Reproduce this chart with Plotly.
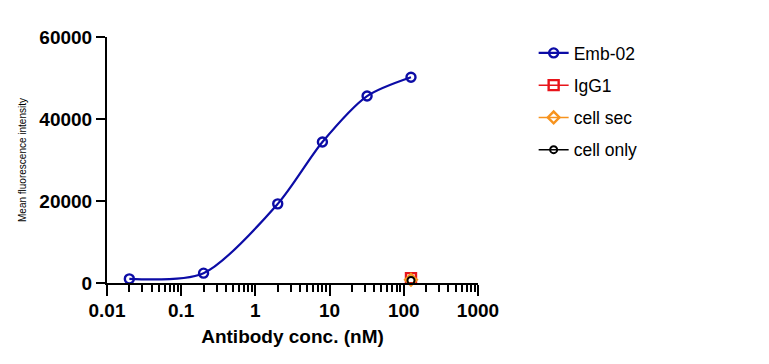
import plotly.graph_objects as go

conc = [0.02, 0.2, 2, 8, 32, 125]
emb02 = [1000, 2400, 19300, 34400, 45600, 50200]
ctrl_conc = [125]
igg1 = [1200]
cell_sec = [800]
cell_only = [600]

x_ticks = [0.01, 0.1, 1, 10, 100, 1000]
x_tick_text = ["0.01", "0.1", "1", "10", "100", "1000"]
y_ticks = [0, 20000, 40000, 60000]
y_tick_text = ["0", "20000", "40000", "60000"]

FONT = "Arial, Liberation Sans, sans-serif"
BLUE = "#0c0ca6"

fig = go.Figure()
fig.add_trace(go.Scatter(
    x=conc, y=emb02, name="Emb-02", mode="lines+markers",
    line=dict(color=BLUE, width=2.2, shape="spline", smoothing=0.8),
    marker=dict(symbol="circle-open", size=9, color=BLUE, line=dict(width=2.4)),
    cliponaxis=False, legendgroup="a"))
fig.add_trace(go.Scatter(
    x=ctrl_conc, y=igg1, name="IgG1", mode="lines+markers",
    line=dict(color="#e8141a", width=1.5),
    marker=dict(symbol="square-open", size=10, color="#e8141a", line=dict(width=2.4)),
    cliponaxis=False, legendgroup="b"))
fig.add_trace(go.Scatter(
    x=ctrl_conc, y=cell_sec, name="cell sec", mode="lines+markers",
    line=dict(color="#f7931e", width=1.5),
    marker=dict(symbol="diamond-open", size=9, color="#f7931e", line=dict(width=2.4)),
    cliponaxis=False, legendgroup="c"))
fig.add_trace(go.Scatter(
    x=ctrl_conc, y=cell_only, name="cell only", mode="lines+markers",
    line=dict(color="black", width=1.5),
    marker=dict(symbol="circle-open", size=7, color="black", line=dict(width=2)),
    cliponaxis=False, legendgroup="d"))

fig.update_layout(
    width=753, height=348,
    margin=dict(l=99, r=283, t=29, b=73),
    paper_bgcolor="white", plot_bgcolor="white",
    font=dict(family=FONT, color="black"),
    legend=dict(x=1.15, y=1.008, xanchor="left", yanchor="top",
                font=dict(size=17.5, family=FONT), tracegroupgap=6.5,
                bgcolor="rgba(0,0,0,0)"),
)
fig.update_xaxes(
    type="log", range=[-2, 3], automargin=False,
    tickvals=x_ticks, ticktext=x_tick_text,
    showline=True, linecolor="black", linewidth=2,
    ticks="outside", ticklen=11, tickwidth=2, tickcolor="black",
    tickfont=dict(size=19, family=FONT, weight="bold"), ticklabelstandoff=-2,
    showgrid=False, zeroline=False,
    minor=dict(ticks="outside", ticklen=7, tickwidth=2, tickcolor="black", dtick="D1", showgrid=False),
    title=dict(text="<b>Antibody conc. (nM)</b>", font=dict(size=19, family=FONT), standoff=10),
)
fig.update_yaxes(
    range=[0, 60000], tickvals=y_ticks, ticktext=y_tick_text, automargin=False,
    showline=True, linecolor="black", linewidth=2,
    ticks="outside", ticklen=9, tickwidth=2, tickcolor="black",
    tickfont=dict(size=19, family=FONT, weight="bold"),
    showgrid=False, zeroline=False,
    title=dict(text="Mean fluorescence intensity", font=dict(size=10, family=FONT), standoff=11),
)

fig.write_html("out.html")
